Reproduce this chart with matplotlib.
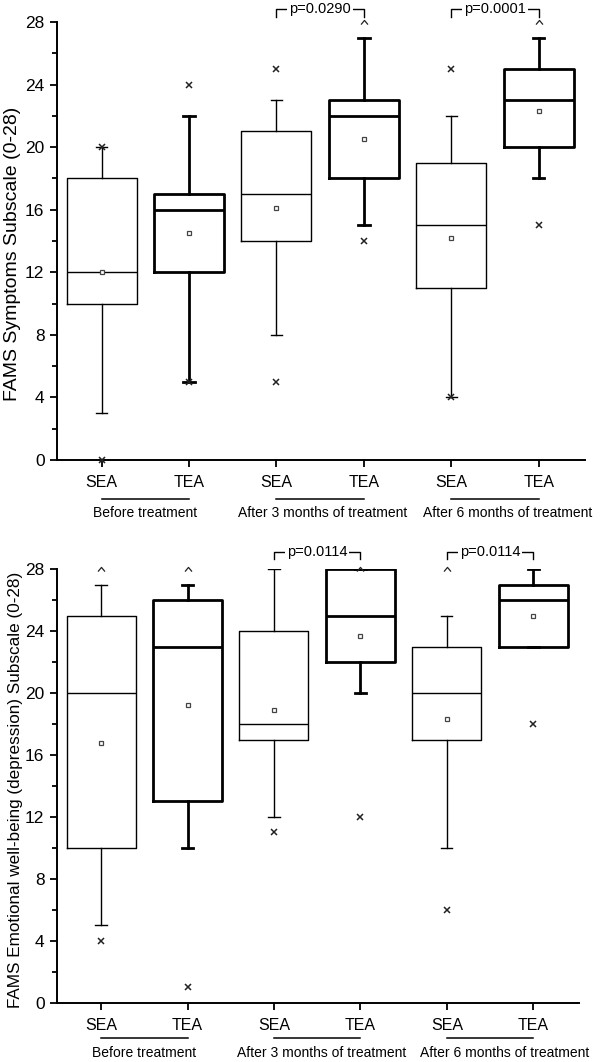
import numpy as np
import matplotlib.pyplot as plt
from matplotlib.path import Path
from matplotlib.ticker import MultipleLocator

plt.rcParams['font.family'] = ['Liberation Sans', 'DejaVu Sans']

# categories
labels = ['SEA', 'TEA', 'SEA', 'TEA', 'SEA', 'TEA']
groups = ['Before treatment', 'After 3 months of treatment', 'After 6 months of treatment']

# FAMS symptoms subscale
sym_whislo = [3, 5, 8, 15, 4, 18]
sym_q1 = [10, 12, 14, 18, 11, 20]
sym_med = [12, 16, 17, 22, 15, 23]
sym_q3 = [18, 17, 21, 23, 19, 25]
sym_whishi = [20, 22, 23, 27, 22, 27]
sym_mean = [12.0, 14.5, 16.1, 20.5, 14.2, 22.3]
sym_cross = [[0, 20], [5, 24], [5, 25], [14], [4, 25], [15]]
sym_max = [[], [], [], [28], [], [28]]
sym_p = ['p=0.0290', 'p=0.0001']

# FAMS emotional well-being subscale
emo_whislo = [5, 10, 12, 20, 10, 23]
emo_q1 = [10, 13, 17, 22, 17, 23]
emo_med = [20, 23, 18, 25, 20, 26]
emo_q3 = [25, 26, 24, 28, 23, 27]
emo_whishi = [27, 27, 28, 28, 25, 28]
emo_mean = [16.8, 19.2, 18.9, 23.7, 18.3, 25.0]
emo_cross = [[4], [1], [11], [12], [6], [18]]
emo_max = [[28], [28], [], [28], [28], []]
emo_p = ['p=0.0114', 'p=0.0114']

caret = Path([(-1, -0.6), (0, 0.6), (1, -0.6)], [Path.MOVETO, Path.LINETO, Path.LINETO])


def panel(ax, whislo, q1, med, q3, whishi, mean, cross, mx, pvals, ylabel, ylab_fs,
          ylab_xy, br, grp_y, grp_dx):
    pos = np.arange(1, 7)
    stats = []
    for i in range(6):
        stats.append(dict(whislo=whislo[i], q1=q1[i], med=med[i], q3=q3[i],
                          whishi=whishi[i], mean=mean[i], fliers=[]))
    # SEA boxes thin, TEA boxes thick
    for idx, lw in [([0, 2, 4], 1.0), ([1, 3, 5], 2.0)]:
        ax.bxp([stats[i] for i in idx], positions=pos[idx], widths=0.8, capwidths=0.13,
               showmeans=True, showfliers=False,
               boxprops=dict(color='black', linewidth=lw),
               whiskerprops=dict(color='black', linewidth=lw),
               capprops=dict(color='black', linewidth=lw),
               medianprops=dict(color='black', linewidth=lw),
               meanprops=dict(marker='s', markersize=3.5, markerfacecolor='white',
                              markeredgecolor='#444444', markeredgewidth=0.9),
               manage_ticks=False)
    for i in range(6):
        if cross[i]:
            ax.plot([pos[i]] * len(cross[i]), cross[i], ls='none', marker='x',
                    ms=4, mew=1.1, color='#222222', clip_on=False, zorder=4)
        if mx[i]:
            ax.plot([pos[i]] * len(mx[i]), mx[i], ls='none', marker=caret,
                    ms=5, mew=0.9, mfc='none', color='#222222', clip_on=False, zorder=4)

    ax.set_xlim(0.49, 6.53)
    ax.set_ylim(0, 28)
    ax.yaxis.set_major_locator(MultipleLocator(4))
    ax.yaxis.set_minor_locator(MultipleLocator(2))
    ax.set_xticks(pos)
    ax.set_xticklabels(labels)
    ax.tick_params(axis='both', which='major', direction='out', length=5, width=1.3,
                   labelsize=12.5, pad=4)
    ax.tick_params(axis='x', pad=6, labelsize=11.5)
    ax.tick_params(axis='y', which='minor', direction='out', length=3.5, width=1.3)
    for s in ['top', 'right']:
        ax.spines[s].set_visible(False)
    for s in ['left', 'bottom']:
        ax.spines[s].set_linewidth(1.4)

    ax.set_ylabel(ylabel, fontsize=ylab_fs)
    ax.yaxis.set_label_coords(*ylab_xy)

    trans = ax.get_xaxis_transform()
    line_y, text_y = grp_y
    for g in range(3):
        a, b = 2 * g + 1, 2 * g + 2
        ax.plot([a, b], [line_y, line_y], color='black', lw=1.1, transform=trans, clip_on=False)
        ax.text((a + b) / 2 + grp_dx[g], text_y, groups[g], ha='center', va='center',
                fontsize=10, transform=trans)

    top, bot = br
    for k, g in enumerate([1, 2]):
        a, b = 2 * g + 1, 2 * g + 2
        ax.plot([a, a, b, b], [bot, top, top, bot], color='black', lw=1.0, clip_on=False)
        ax.text((a + b) / 2, top, pvals[k], ha='center', va='center', fontsize=10.5,
                bbox=dict(facecolor='white', edgecolor='none', pad=1.5), clip_on=False)


fig = plt.figure(figsize=(6, 10.62), dpi=100)
ax1 = fig.add_axes([0.095, 0.5669, 0.88, 0.4124])
ax2 = fig.add_axes([0.095, 0.056, 0.87, 0.4079])

panel(ax1, sym_whislo, sym_q1, sym_med, sym_q3, sym_whishi, sym_mean, sym_cross, sym_max,
      sym_p, 'FAMS Symptoms Subscale (0-28)', 14, (-0.068, 0.471), (28.85, 28.3),
      (-0.089, -0.12), [0.0, 0.03, 0.14])
panel(ax2, emo_whislo, emo_q1, emo_med, emo_q3, emo_whishi, emo_mean, emo_cross, emo_max,
      emo_p, 'FAMS Emotional well-being (depression) Subscale (0-28)', 12.3, (-0.066, 0.491),
      (29.15, 28.65), (-0.083, -0.117), [0.0, 0.05, 0.17])

fig.savefig('out.png', dpi=100)
